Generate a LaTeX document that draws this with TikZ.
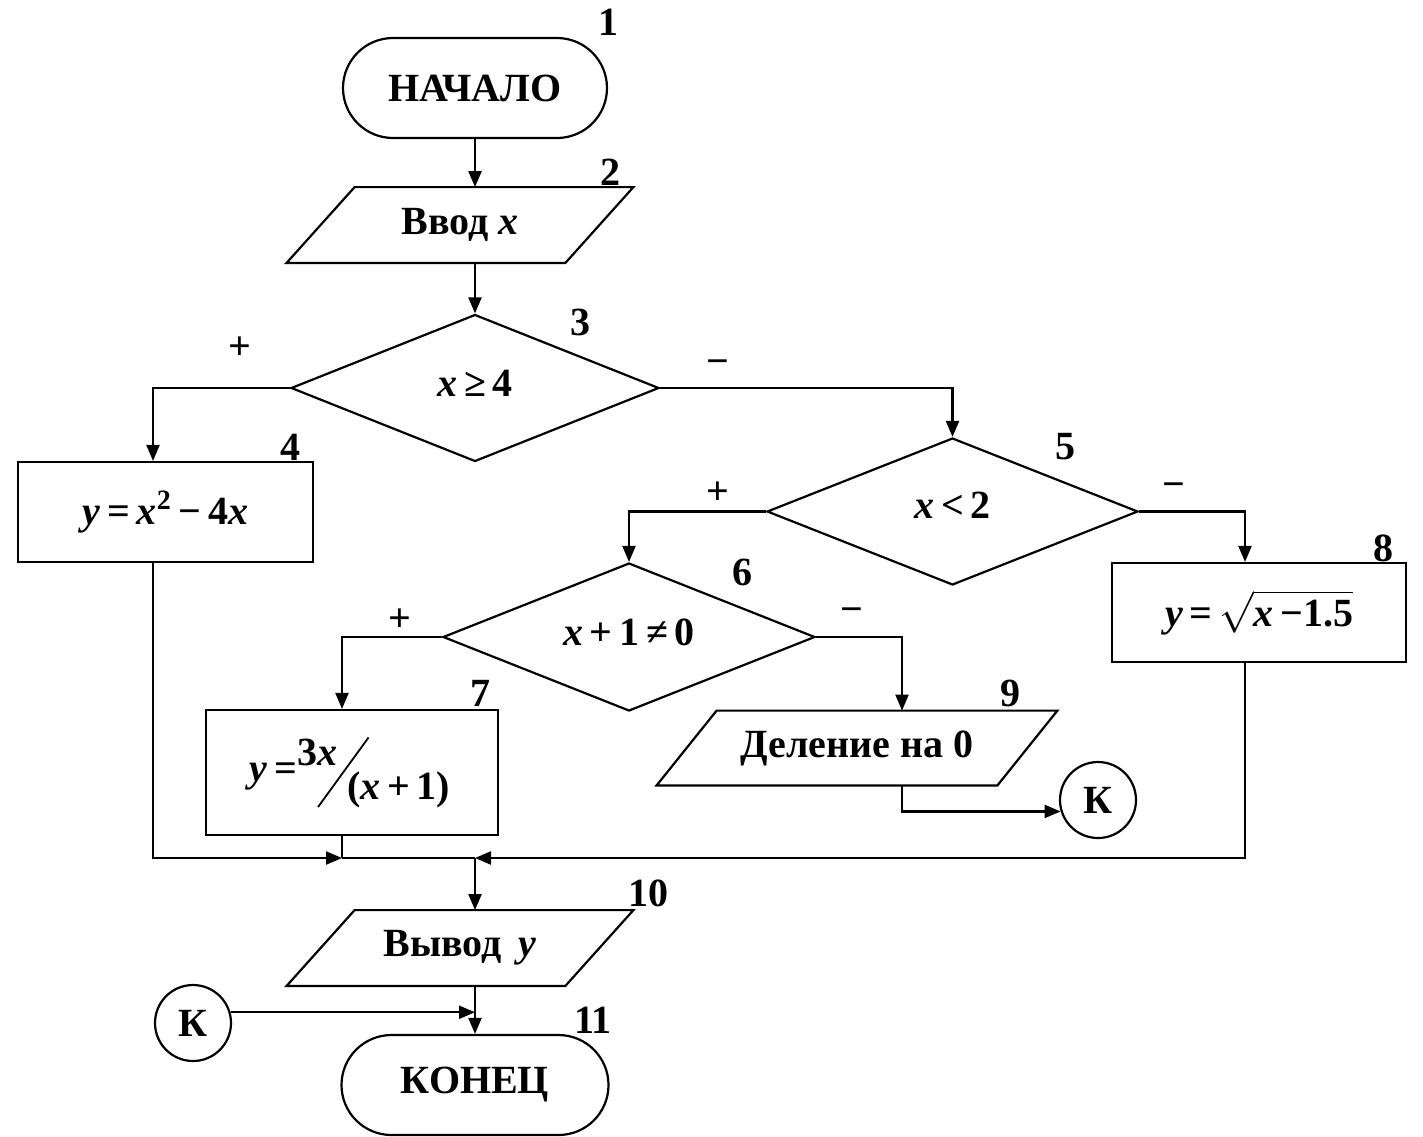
\documentclass[tikz,border=0pt]{standalone}
\usepackage{fontspec}
\setmainfont{Liberation Serif}
\usepackage{graphicx}
\usetikzlibrary{shapes.geometric,arrows.meta,calc}
\begin{document}
\begin{tikzpicture}[x=0.5pt,y=-0.5pt,
  txt/.style={font=\fontsize{20}{24}\selectfont\bfseries},
  base/.style={txt, draw, line width=1.1pt, inner sep=0pt},
  term/.style={base, rectangle, rounded corners=25pt, minimum width=132pt, minimum height=50pt},
  iobox/.style={txt, inner sep=0pt, rectangle, minimum width=173pt, minimum height=37.5pt},
  cond/.style={base, diamond, aspect=2.5, minimum width=184pt, minimum height=73.5pt},
  proc/.style={base, rectangle},
  conn/.style={base, circle, minimum size=38pt},
  num/.style={txt, inner sep=0pt},
  ln/.style={line width=1.1pt},
  arr/.style={line width=1.1pt, -{Triangle[length=8pt,width=6.5pt]}}]
\useasboundingbox (0,0) rectangle (1423,1136);

% nodes
\node[term] (n1) at (475,88) {НАЧАЛО};
\node[iobox] (n2) at (460,225) {\raisebox{1pt}{Ввод \textit{x}}};
\draw[ln] ([xshift=34pt]n2.north west) -- (n2.north east) -- ([xshift=-34pt]n2.south east) -- (n2.south west) -- cycle;
\node[cond] (n3) at (475,388) {\raisebox{5pt}{\textit{x}\,≥\,4}};
\node[proc, minimum width=147.5pt, minimum height=50pt] (n4) at (165.5,512) {\textit{y}\,=\,\textit{x}\textsuperscript{2}\,−\,4\textit{x}};
\node[cond, minimum width=185.5pt] (n5) at (952.5,511.5) {\raisebox{6pt}{\textit{x}\,<\,2}};
\node[cond, minimum width=186pt, minimum height=74pt] (n6) at (629,637) {\raisebox{5pt}{\textit{x}\,+\,1\,≠\,0}};
\node[proc, minimum width=146pt, minimum height=62.5pt] (n7) at (352,772.5) {\kern-2pt\textit{y}\,=\raisebox{8pt}{3\textit{x}}\kern-10pt\raisebox{-13pt}{\rotatebox{54}{\rule{43pt}{0.9pt}}}\kern-11pt\raisebox{-9pt}{(\textit{x}\,+\,1)}};
\node[proc, minimum width=147pt, minimum height=49.5pt] (n8) at (1259,612.5) {\textit{y}\,=\,$\sqrt{\mbox{\textit{x}\,−1.5}}$};
\node[iobox, minimum width=200pt, minimum height=37pt] (n9) at (857,748) {Деление на 0};
\draw[ln] ([xshift=30pt]n9.north west) -- (n9.north east) -- ([xshift=-30pt]n9.south east) -- (n9.south west) -- cycle;
\node[conn] (k1) at (1098,800) {К};
\node[iobox] (n10) at (460,948) {Вывод\, \textit{y}};
\draw[ln] ([xshift=34pt]n10.north west) -- (n10.north east) -- ([xshift=-34pt]n10.south east) -- (n10.south west) -- cycle;
\node[conn] (k2) at (193,1023) {К};
\node[term, minimum width=133.5pt] (n11) at (475,1085) {КОНЕЦ};

% numbers and signs
\node[num] (l1) at (608,22) {1};
\node[num] (l2) at (610,172) {2};
\node[num] (l3) at (580,322) {3};
\node[num] (l4) at (290,447) {4};
\node[num] (l5) at (1065,447) {5};
\node[num] (l6) at (742,572) {6};
\node[num] (l7) at (480,693) {7};
\node[num] (l8) at (1383,548) {8};
\node[num] (l9) at (1010,693) {9};
\node[num] (l10) at (648,893) {10};
\node[num] (l11) at (593,1020) {11};
\node[num] (s1) at (240,348) {+};
\node[num] (s2) at (718,367) {−};
\node[num] (s3) at (718,493) {+};
\node[num] (s4) at (1174,490) {−};
\node[num] (s5) at (400,620) {+};
\node[num] (s6) at (852,615) {−};

% connectors
\draw[arr] (n1.south) -- (n1.south |- n2.north);
\draw[arr] (n3.north |- n2.south) -- (n3.north);
\draw[arr] (n3.west) -| ([xshift=-6.25pt]n4.north);
\draw[arr] (n3.east) -| (n5.north);
\draw[arr] (n5.west) -| (n6.north);
\draw[arr] (n5.east) -| ([xshift=-7pt]n8.north);
\draw[arr] (n6.west) -| ([xshift=-5pt]n7.north);
\draw[arr] (n6.east) -| ([xshift=22.5pt]n9.north);
\draw[arr] ([xshift=22.5pt]n9.south) |- (k1.197);
\coordinate (j1) at (342,858);
\coordinate (j2) at (475,858);
\draw[arr] ([xshift=-6.25pt]n4.south) |- (j1);
\draw[ln] ([xshift=-5pt]n7.south) -- (j1);
\draw[ln] (j1) -- (j2);
\draw[arr] ([xshift=-7pt]n8.south) |- (j2);
\draw[arr] (j2) -- (j2 |- n10.north);
\draw[arr] (n11.north |- n10.south) -- (n11.north);
\draw[arr] (k2.16) -- (k2.16 -| n11.north);
\end{tikzpicture}
\end{document}
